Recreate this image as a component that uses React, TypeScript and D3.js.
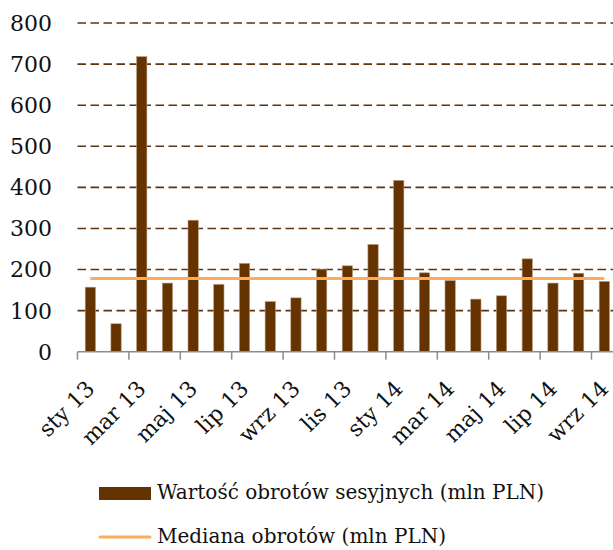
import React from "react";
import * as d3 from "d3";

const months = [
  "sty 13", "lut 13", "mar 13", "kwi 13", "maj 13", "cze 13", "lip 13", "sie 13", "wrz 13", "paź 13", "lis 13", "gru 13",
  "sty 14", "lut 14", "mar 14", "kwi 14", "maj 14", "cze 14", "lip 14", "sie 14", "wrz 14",
];
const turnover = [157, 68, 718, 167, 320, 164, 215, 122, 131, 201, 209, 261, 417, 192, 173, 128, 136, 226, 167, 191, 171];
const median = 178;
const yTicks = [0, 100, 200, 300, 400, 500, 600, 700, 800];
const seriesNames = ["Wartość obrotów sesyjnych (mln PLN)", "Mediana obrotów (mln PLN)"];

const BAR = "#653300";
const MED = "#ffab5c";
const FONT = "'DejaVu Serif', serif";

export default function App() {
  const W = 613, H = 550;
  const left = 77.5, right = 617.2, top = 23, bottom = 351.7;
  const x = d3.scaleBand<string>().domain(months).range([left, right]).padding(0);
  const y = d3.scaleLinear().domain([0, 800]).range([bottom, top]);
  const bw = x.step() * 0.4;
  const labelIdx = months.map((_, i) => i).filter(i => i % 2 === 0);
  const tickIdx = d3.range(0, months.length + 1, 2);
  const medLine = d3.line<number>()
    .x(d => d)
    .y(() => y(median));
  const firstC = (x(months[0]) as number) + x.bandwidth() / 2;
  const lastC = (x(months[months.length - 1]) as number) + x.bandwidth() / 2;

  return (
    <svg width={W} height={H} style={{ position: "absolute", left: 0, top: 0, background: "#fff" }} fontFamily={FONT}>
      {/* gridlines */}
      {yTicks.filter(t => t > 0).map(t => (
        <line key={t} x1={left} x2={W} y1={y(t)} y2={y(t)} stroke="#5e3410" strokeWidth={1.6} strokeDasharray="8.5,4.5" />
      ))}
      {/* y labels */}
      {yTicks.map(t => (
        <text key={t} x={52} y={y(t)} dy="0.36em" textAnchor="end" fontSize={22} fill="#111">{t}</text>
      ))}
      {/* bars */}
      {turnover.map((v, i) => {
        const cx = (x(months[i]) as number) + x.bandwidth() / 2;
        return (
          <rect key={i} x={cx - bw / 2} y={y(v)} width={bw} height={y(0) - y(v)} fill={BAR} stroke="#b89a7c" strokeWidth={0.6} />
        );
      })}
      {/* x axis */}
      <line x1={left} x2={W} y1={bottom} y2={bottom} stroke="#8c8c8c" strokeWidth={1.5} />
      {tickIdx.map(i => {
        const tx = left + i * x.step();
        return <line key={i} x1={tx} x2={tx} y1={bottom} y2={bottom + 8} stroke="#8c8c8c" strokeWidth={1.5} />;
      })}
      {labelIdx.map(i => {
        const cx = (x(months[i]) as number) + x.bandwidth() / 2;
        return (
          <g key={i} transform={`translate(${cx},${bottom + 33})`}>
            <text transform="rotate(-45)" textAnchor="end" dy="0.35em" fontSize={22} fill="#111">
              {months[i]}
            </text>
          </g>
        );
      })}
      {/* median line */}
      <path d={medLine([firstC, lastC]) || ""} stroke={MED} strokeWidth={3} fill="none" />
      {/* legend */}
      <rect x={99} y={487} width={52} height={13} fill={BAR} />
      <text x={157} y={499} fontSize={20} fill="#111">{seriesNames[0]}</text>
      <line x1={100} x2={150} y1={537} y2={537} stroke={MED} strokeWidth={3} strokeLinecap="round" />
      <text x={157} y={543} fontSize={20} fill="#111">{seriesNames[1]}</text>
    </svg>
  );
}
